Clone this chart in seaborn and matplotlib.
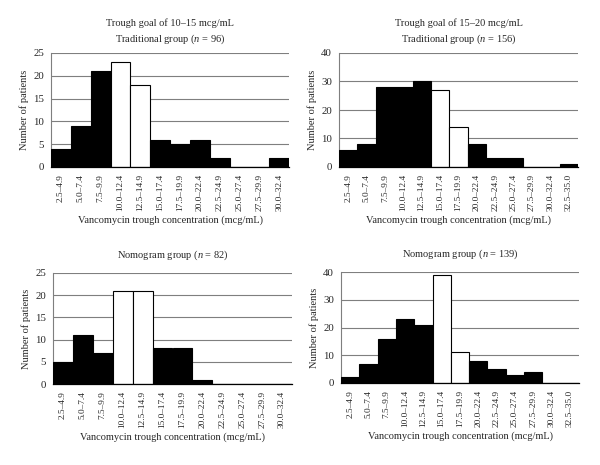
import matplotlib
matplotlib.use("Agg")
import matplotlib.pyplot as plt
import seaborn as sns
import pandas as pd
import numpy as np

bins12 = ["2.5–4.9", "5.0–7.4", "7.5–9.9", "10.0–12.4", "12.5–14.9", "15.0–17.4",
          "17.5–19.9", "20.0–22.4", "22.5–24.9", "25.0–27.4", "27.5–29.9", "30.0–32.4"]
bins13 = bins12 + ["32.5–35.0"]

tl_counts = [4, 9, 21, 23, 18, 6, 5, 6, 2, 0, 0, 2]
tr_counts = [6, 8, 28, 28, 30, 27, 14, 8, 3, 3, 0, 0, 1]
bl_counts = [5, 11, 7, 21, 21, 8, 8, 1, 0, 0, 0, 0]
br_counts = [2, 7, 16, 23, 21, 39, 11, 8, 5, 3, 4, 0, 0]

goal_10_15 = ["10.0–12.4", "12.5–14.9"]
goal_15_20 = ["15.0–17.4", "17.5–19.9"]

sns.set_style("white")
plt.rcParams['font.family'] = ['Liberation Serif', 'DejaVu Serif']
plt.rcParams['mathtext.fontset'] = 'custom'
plt.rcParams['mathtext.it'] = 'Liberation Serif:italic'
plt.rcParams['mathtext.rm'] = 'Liberation Serif'

fig = plt.figure(figsize=(6.0, 4.65), dpi=100)
W, H = 600, 465

def make_ax(left, right, top, bottom):
    return fig.add_axes([left / W, 1 - bottom / H, (right - left) / W, (bottom - top) / H])

panels = [
    dict(box=(51, 289, 53, 167), bins=bins12, counts=tl_counts, goal=goal_10_15,
         ymax=25, step=5, pad=8, title="Trough goal of 10–15 mcg/mL\nTraditional group ($n$ = 96)"),
    dict(box=(339, 578, 53, 167), bins=bins13, counts=tr_counts, goal=goal_15_20,
         ymax=40, step=10, pad=8, title="Trough goal of 15–20 mcg/mL\nTraditional group ($n$ = 156)"),
    dict(box=(53, 292, 273, 384), bins=bins12, counts=bl_counts, goal=goal_10_15,
         ymax=25, step=5, pad=11, title="Nomogram group ($n$ = 82)"),
    dict(box=(341, 579, 272, 383), bins=bins13, counts=br_counts, goal=goal_15_20,
         ymax=40, step=10, pad=11, title="Nomogram group ($n$ = 139)"),
]

for p in panels:
    ax = make_ax(*p["box"])
    df = pd.DataFrame({"bin": p["bins"], "count": p["counts"]})
    palette = {b: ("white" if b in p["goal"] else "black") for b in p["bins"]}
    sns.barplot(data=df, x="bin", y="count", hue="bin", palette=palette, legend=False,
                width=1.0, edgecolor="black", linewidth=0.8, saturation=1, ax=ax, zorder=3)
    n = len(p["bins"])
    ax.set_xlim(-0.5, n - 0.5)
    ax.set_ylim(0, p["ymax"])
    ax.set_yticks(np.arange(0, p["ymax"] + 1, p["step"]))
    ax.yaxis.grid(True, color="#7f7f7f", linewidth=0.8, zorder=0)
    ax.set_axisbelow(True)
    ax.set_xticks(np.arange(n))
    ax.set_xticklabels(p["bins"], rotation=90, fontsize=6.7)
    ax.set_xticks(np.arange(-0.5, n, 1), minor=True)
    ax.tick_params(axis="x", which="major", length=0, pad=5)
    ax.tick_params(axis="x", which="minor", length=3, width=0.8, color="black", direction="out")
    ax.tick_params(axis="y", labelsize=7.8, length=3, width=0.8, color="#7f7f7f", direction="out", pad=2)
    for s in ["top", "right"]:
        ax.spines[s].set_visible(False)
    ax.spines["left"].set_color("#7f7f7f")
    ax.spines["left"].set_linewidth(0.8)
    ax.spines["bottom"].set_color("black")
    ax.spines["bottom"].set_linewidth(0.9)
    ax.spines["bottom"].set_zorder(4)
    ax.set_xlabel("Vancomycin trough concentration (mcg/mL)", fontsize=7.5, labelpad=3)
    ax.set_ylabel("Number of patients", fontsize=7.5, labelpad=3)
    ax.set_title(p["title"], fontsize=7.5, linespacing=1.45, pad=p["pad"])

fig.savefig("out.png", dpi=100, facecolor="white")
